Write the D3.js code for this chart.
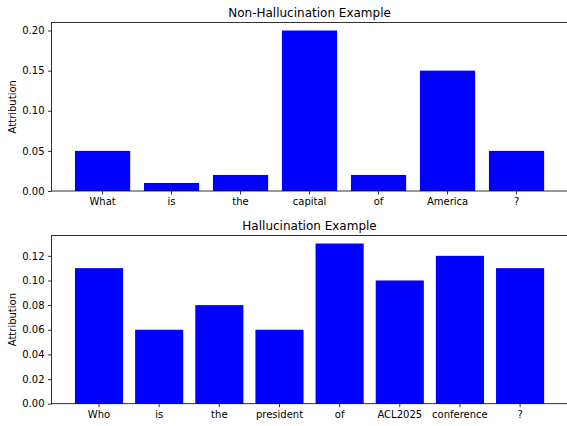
<!DOCTYPE html>
<html>
<head>
<meta charset="utf-8">
<script src="https://cdn.jsdelivr.net/npm/d3@7"></script>
<style>
  html, body { margin: 0; padding: 0; background: #fff; }
  svg { display: block; }
  text { font-family: "DejaVu Sans", sans-serif; fill: #000; }
</style>
</head>
<body>
<svg id="chart" width="567" height="426"></svg>
<script>
// ---- data ----
const topTitle = "Non-Hallucination Example";
const topTokens = ["What", "is", "the", "capital", "of", "America", "?"];
const topValues = [0.05, 0.01, 0.02, 0.20, 0.02, 0.15, 0.05];
const topTicks = [0.00, 0.05, 0.10, 0.15, 0.20];

const botTitle = "Hallucination Example";
const botTokens = ["Who", "is", "the", "president", "of", "ACL2025", "conference", "?"];
const botValues = [0.11, 0.06, 0.08, 0.06, 0.13, 0.10, 0.12, 0.11];
const botTicks = [0.00, 0.02, 0.04, 0.06, 0.08, 0.10, 0.12];

const yLabel = "Attribution";
const barColor = "#0000ff";

const svg = d3.select("#chart");

function panel(cfg) {
  const { left, right, top, bottom, tokens, values, ticks, title } = cfg;
  const n = tokens.length;
  const g = svg.append("g");

  // matplotlib-style: bar width 0.8, 5% margins of data span
  const outer = 0.05 * (n - 1 + 0.8);
  const x = d3.scaleBand()
    .domain(tokens)
    .range([left, right])
    .paddingInner(0.2)
    .paddingOuter(outer)
    .align(0.5);

  const ymax = d3.max(values) * 1.05;
  const y = d3.scaleLinear().domain([0, ymax]).range([bottom, top]);

  // bars
  g.selectAll("rect.bar")
    .data(values)
    .enter()
    .append("rect")
    .attr("class", "bar")
    .attr("x", (d, i) => x(tokens[i]))
    .attr("width", x.bandwidth())
    .attr("y", d => y(d))
    .attr("height", d => y(0) - y(d))
    .attr("fill", barColor);

  // y axis
  const yAxis = d3.axisLeft(y)
    .tickValues(ticks)
    .tickFormat(d3.format(".2f"))
    .tickSize(3.5)
    .tickPadding(3.5);
  const ya = g.append("g").attr("transform", `translate(${left},0)`).call(yAxis);
  ya.select(".domain").remove();
  ya.selectAll(".tick line").attr("stroke", "#000").attr("stroke-width", 0.8);
  ya.selectAll(".tick text").style("font-size", "10px").style("font-family", "DejaVu Sans").attr("fill", "#000");

  // x axis
  const xAxis = d3.axisBottom(x).tickSize(3.5).tickPadding(3.5);
  const xa = g.append("g").attr("transform", `translate(0,${bottom})`).call(xAxis);
  xa.select(".domain").remove();
  xa.selectAll(".tick line").attr("stroke", "#000").attr("stroke-width", 0.8);
  xa.selectAll(".tick text").style("font-size", "10px").style("font-family", "DejaVu Sans").attr("fill", "#000");

  // spines
  g.append("rect")
    .attr("x", left).attr("y", top)
    .attr("width", right - left).attr("height", bottom - top)
    .attr("fill", "none").attr("stroke", "#000").attr("stroke-width", 0.8);

  // title
  g.append("text")
    .attr("x", (left + right) / 2)
    .attr("y", top - 6)
    .attr("text-anchor", "middle")
    .style("font-size", "12px")
    .text(title);

  // y label
  g.append("text")
    .attr("transform", `translate(16,${(top + bottom) / 2}) rotate(-90)`)
    .attr("text-anchor", "middle")
    .style("font-size", "10px")
    .text(yLabel);
}

panel({ left: 51.5, right: 567.6, top: 22.5, bottom: 191, tokens: topTokens, values: topValues, ticks: topTicks, title: topTitle });
panel({ left: 51.5, right: 567.6, top: 235.5, bottom: 403.7, tokens: botTokens, values: botValues, ticks: botTicks, title: botTitle });
</script>
</body>
</html>
